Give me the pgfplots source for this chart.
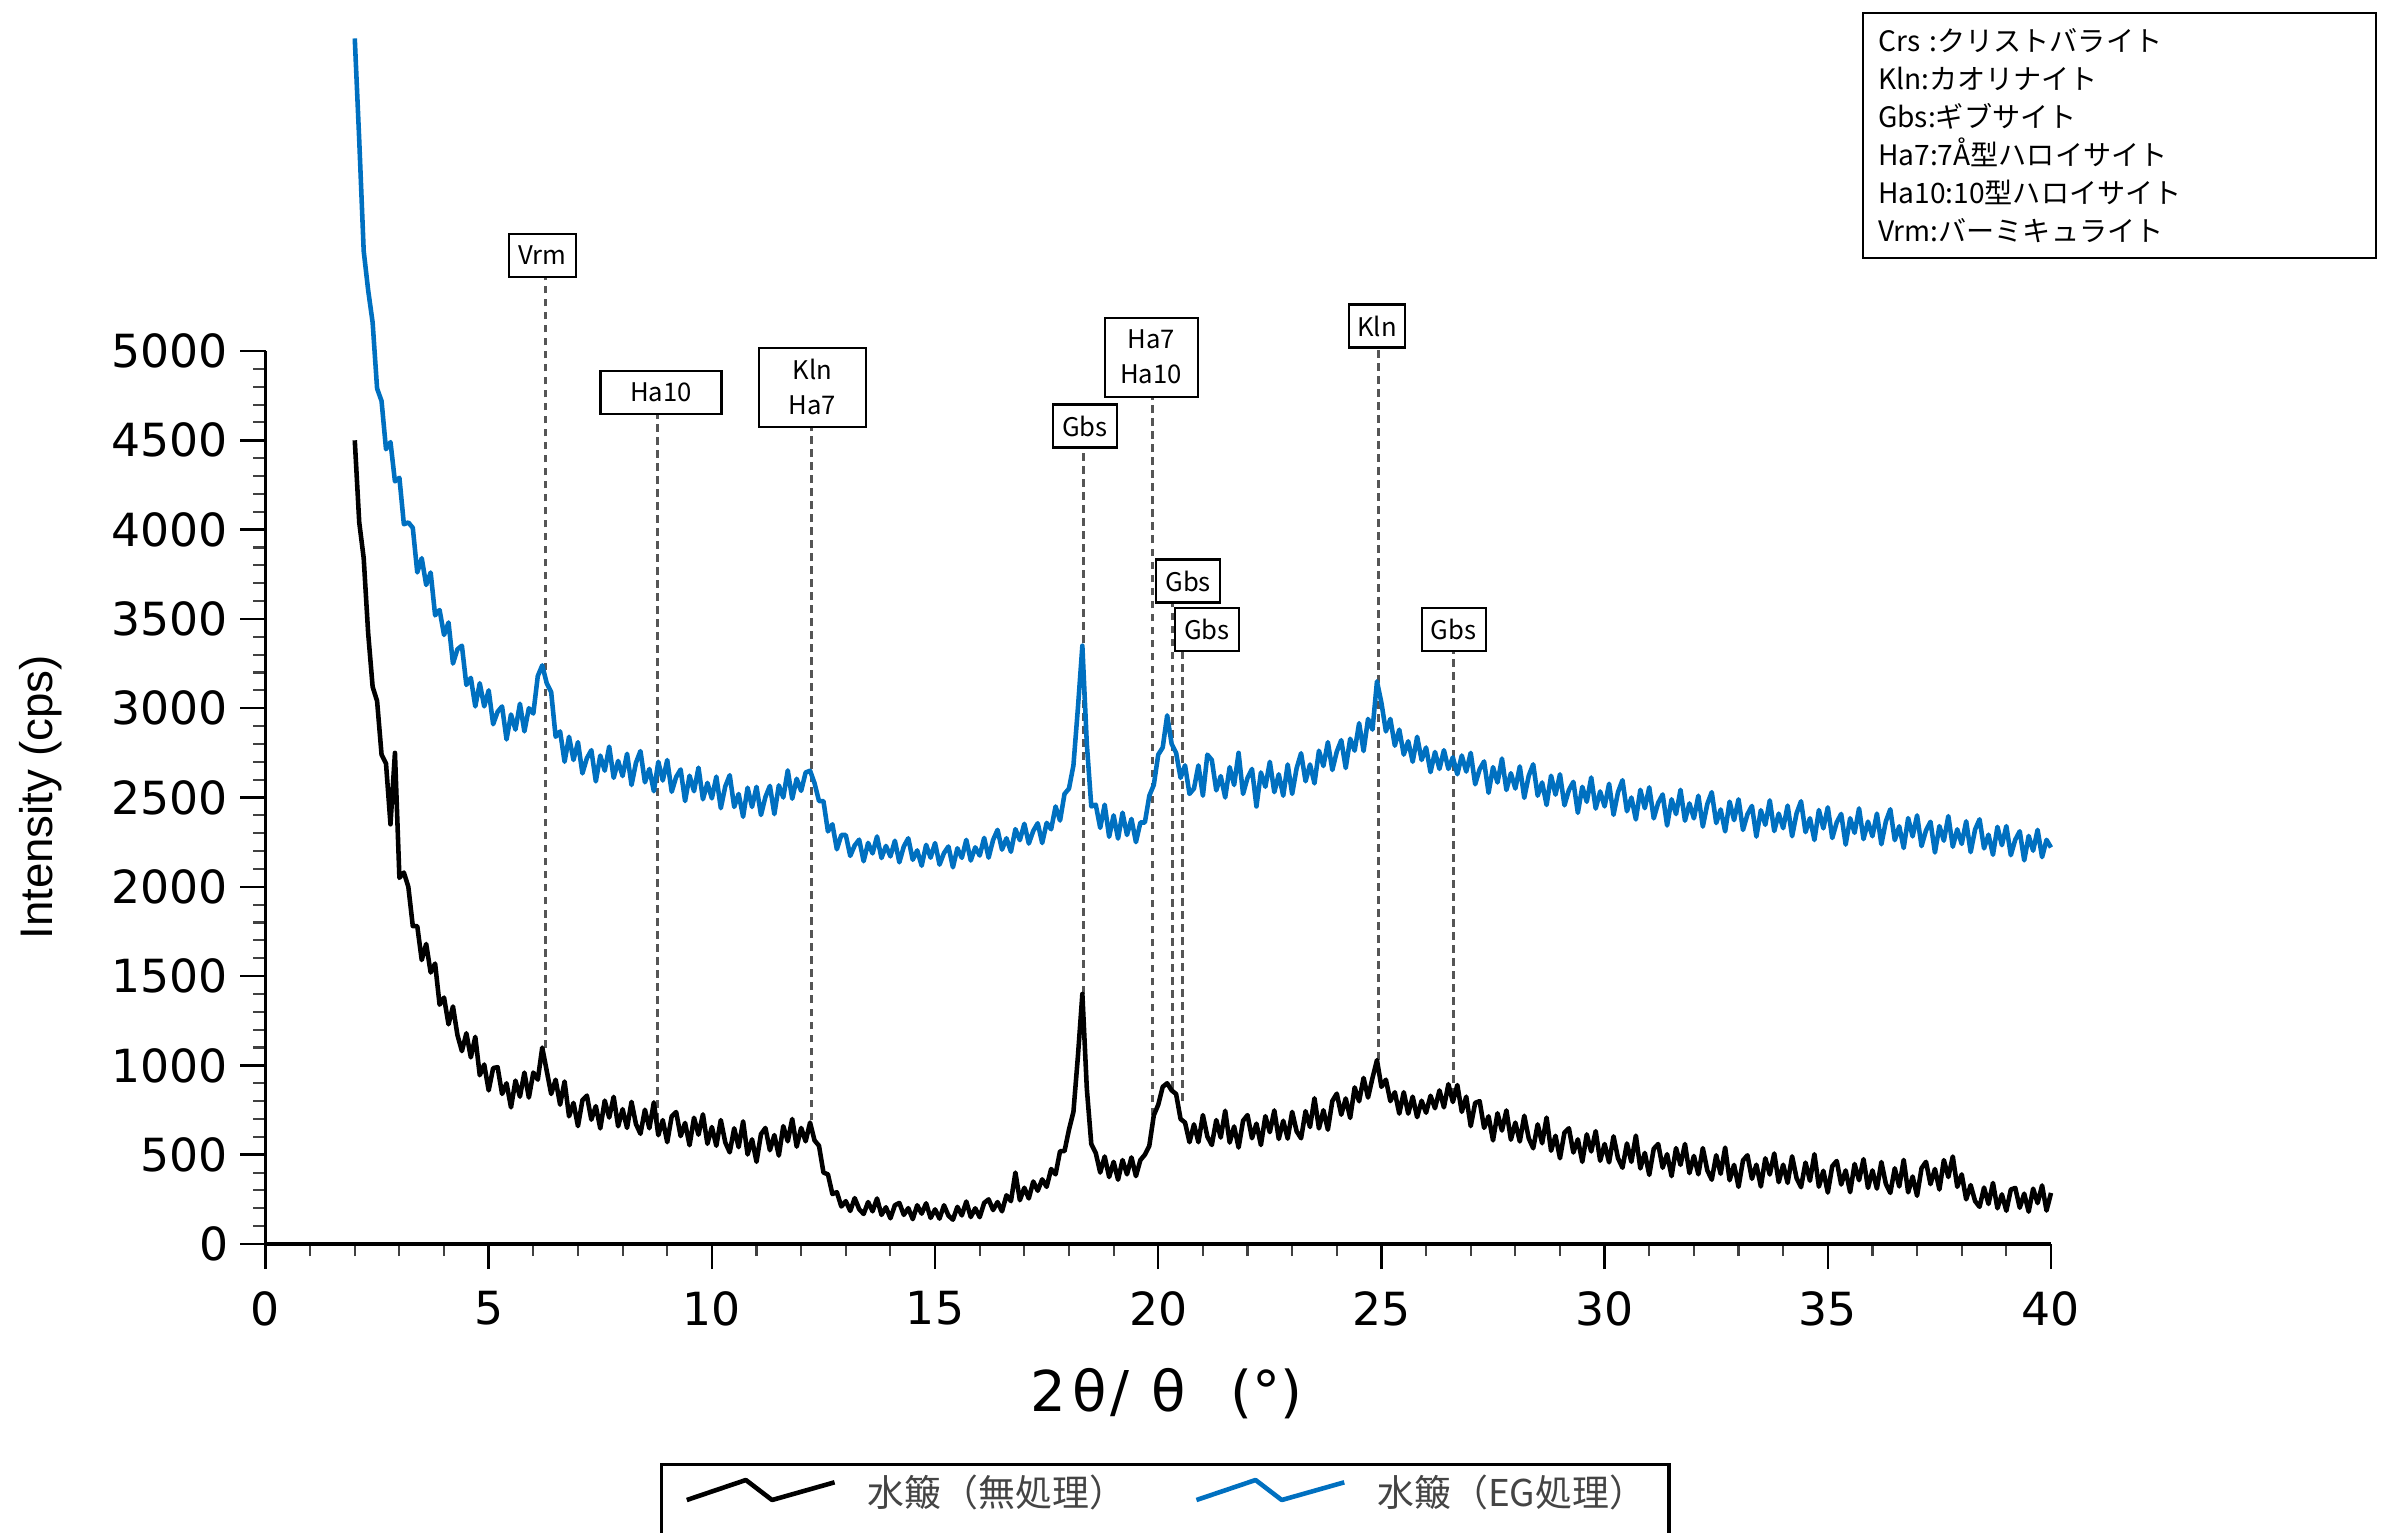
\documentclass[border=0pt]{standalone}
\usepackage{fontspec}
\setmainfont{Liberation Sans}
\newfontfamily\cjk{Noto Sans CJK JP}
\newfontfamily\dejavu{DejaVu Sans}
\usepackage{pgfplots}
\pgfplotsset{compat=1.18}
\usepackage{pgfplotstable}
\definecolor{egblue}{HTML}{0070C0}
\definecolor{dashgray}{HTML}{555555}
\definecolor{leggray}{HTML}{444444}
\tikzset{box/.style={draw=black, line width=0.6pt, fill=white, inner sep=0pt, align=center,
    font=\cjk\fontsize{7.3}{10}\selectfont}}
\pgfplotsset{dline/.style={dashgray, line width=0.9pt, dash pattern=on 2.2pt off 1.5pt, forget plot}}

\pgfplotstableread{
x b e
2.0 4500 6750
2.1 4040 6180
2.2 3840 5560
2.3 3420 5340
2.4 3120 5160
2.5 3040 4790
2.6 2740 4720
2.7 2690 4450
2.8 2350 4490
2.9 2750 4270
3.0 2050 4290
3.1 2080 4030
3.2 2000 4040
3.3 1780 4010
3.4 1780 3760
3.5 1590 3840
3.6 1680 3690
3.7 1520 3760
3.8 1570 3520
3.9 1340 3550
4.0 1380 3410
4.1 1230 3480
4.2 1330 3250
4.3 1170 3330
4.4 1080 3350
4.5 1180 3130
4.6 1045 3170
4.7 1160 3010
4.8 945 3140
4.9 1005 3010
5.0 860 3100
5.1 985 2910
5.2 990 2980
5.3 840 3010
5.4 900 2825
5.5 765 2965
5.6 915 2880
5.7 825 3025
5.8 960 2870
5.9 820 3000
6.0 960 2970
6.1 920 3180
6.2 1100 3240
6.3 970 3140
6.4 840 3090
6.5 920 2840
6.6 780 2870
6.7 910 2700
6.8 715 2840
6.9 790 2710
7.0 660 2810
7.1 805 2635
7.2 831 2720
7.3 696 2765
7.4 772 2590
7.5 647 2735
7.6 803 2650
7.7 708 2785
7.8 824 2610
7.9 659 2705
8.0 755 2620
8.1 650 2745
8.2 796 2570
8.3 671 2695
8.4 617 2760
8.5 752 2585
8.6 648 2660
8.7 793 2535
8.8 609 2700
8.9 694 2595
9.0 570 2710
9.1 715 2532
9.2 739 2615
9.3 604 2657
9.4 678 2480
9.5 553 2622
9.6 707 2535
9.7 612 2667
9.8 726 2490
9.9 561 2582
10.0 655 2495
10.1 550 2617
10.2 694 2440
10.3 569 2562
10.4 513 2625
10.5 648 2447
10.6 542 2520
10.7 687 2392
10.8 501 2555
10.9 586 2447
11.0 460 2560
11.1 615 2402
11.2 650 2503
11.3 525 2565
11.4 610 2407
11.5 495 2568
11.6 660 2500
11.7 575 2652
11.8 700 2493
11.9 545 2605
12.0 650 2537
12.1 575 2640
12.2 680 2650
12.3 580 2580
12.4 550 2480
12.5 400 2480
12.6 390 2310
12.7 280 2350
12.8 290 2210
12.9 210 2290
13.0 240 2290
13.1 185 2173
13.2 257 2232
13.3 195 2264
13.4 168 2143
13.5 235 2246
13.6 183 2187
13.7 255 2282
13.8 163 2161
13.9 206 2229
14.0 144 2170
14.1 217 2258
14.2 230 2137
14.3 163 2226
14.4 201 2272
14.5 139 2151
14.6 217 2204
14.7 170 2118
14.8 228 2235
14.9 146 2163
15.0 194 2245
15.1 142 2124
15.2 217 2189
15.3 159 2226
15.4 136 2109
15.5 208 2216
15.6 160 2162
15.7 238 2263
15.8 151 2147
15.9 200 2221
16.0 150 2175
16.1 230 2274
16.2 250 2163
16.3 190 2262
16.4 235 2319
16.5 183 2208
16.6 273 2272
16.7 240 2196
16.8 400 2323
16.9 245 2261
17.0 315 2353
17.1 255 2242
17.2 350 2313
17.3 298 2356
17.4 362 2245
17.5 320 2358
17.6 420 2322
17.7 390 2450
17.8 520 2371
17.9 520 2520
18.0 640 2550
18.1 740 2680
18.2 1050 3000
18.3 1400 3350
18.4 870 2800
18.5 560 2450
18.6 510 2460
18.7 400 2330
18.8 490 2460
18.9 375 2280
19.0 460 2400
19.1 360 2270
19.2 470 2415
19.3 390 2290
19.4 485 2380
19.5 380 2250
19.6 470 2360
19.7 500 2360
19.8 550 2510
19.9 720 2570
20.0 780 2740
20.1 880 2780
20.2 900 2960
20.3 860 2800
20.4 840 2750
20.5 700 2610
20.6 680 2680
20.7 570 2520
20.8 670 2550
20.9 570 2680
21.0 722 2510
21.1 602 2740
21.2 554 2710
21.3 694 2540
21.4 596 2620
21.5 746 2500
21.6 568 2670
21.7 658 2570
21.8 540 2750
21.9 690 2520
22.0 722 2610
22.1 592 2660
22.2 674 2450
22.3 554 2640
22.4 716 2560
22.5 626 2700
22.6 748 2530
22.7 588 2630
22.8 690 2510
22.9 590 2685
23.0 740 2520
23.1 631 2664
23.2 592 2748
23.3 744 2591
23.4 655 2685
23.5 816 2579
23.6 647 2762
23.7 749 2676
23.8 640 2810
23.9 801 2654
24.0 842 2757
24.1 724 2821
24.2 815 2665
24.3 706 2829
24.4 877 2762
24.5 799 2916
24.6 930 2760
24.7 820 2940
24.8 930 2880
24.9 1030 3150
25.0 880 3030
25.1 920 2870
25.2 800 2940
25.3 850 2790
25.4 730 2880
25.5 850 2740
25.6 730 2815
25.7 825 2700
25.8 710 2840
25.9 802 2710
26.0 735 2780
26.1 830 2642
26.2 760 2755
26.3 860 2660
26.4 765 2765
26.5 895 2660
26.6 795 2725
26.7 890 2630
26.8 740 2735
26.9 825 2645
27.0 660 2750
27.1 790 2574
27.2 800 2658
27.3 650 2702
27.4 715 2526
27.5 580 2670
27.6 732 2584
27.7 635 2718
27.8 748 2542
27.9 584 2636
28.0 680 2550
28.1 574 2674
28.2 718 2498
28.3 592 2622
28.4 536 2686
28.5 670 2510
28.6 564 2584
28.7 708 2458
28.8 522 2622
28.9 606 2516
29.0 480 2630
29.1 624 2456
29.2 648 2542
29.3 512 2588
29.4 586 2414
29.5 460 2560
29.6 614 2476
29.7 518 2612
29.8 632 2438
29.9 466 2534
30.0 560 2450
30.1 457 2577
30.2 603 2403
30.3 480 2530
30.4 427 2597
30.5 563 2423
30.6 460 2500
30.7 607 2377
30.8 423 2543
30.9 510 2440
31.0 387 2557
31.1 533 2383
31.2 560 2470
31.3 427 2517
31.4 503 2343
31.5 380 2490
31.6 537 2407
31.7 443 2543
31.8 560 2370
31.9 397 2467
32.0 493 2383
32.1 390 2510
32.2 537 2337
32.3 413 2463
32.4 360 2530
32.5 497 2357
32.6 393 2433
32.7 540 2310
32.8 357 2477
32.9 443 2373
33.0 320 2490
33.1 468 2318
33.2 497 2406
33.3 365 2453
33.4 444 2281
33.5 322 2429
33.6 480 2347
33.7 389 2484
33.8 507 2312
33.9 346 2410
34.0 444 2328
34.1 342 2455
34.2 491 2283
34.3 369 2411
34.4 318 2479
34.5 456 2306
34.6 354 2384
34.7 503 2262
34.8 321 2430
34.9 410 2327
35.0 288 2445
35.1 436 2273
35.2 465 2361
35.3 333 2408
35.4 412 2236
35.5 290 2384
35.6 448 2302
35.7 357 2439
35.8 475 2267
35.9 314 2365
36.0 412 2283
36.1 310 2410
36.2 459 2238
36.3 337 2366
36.4 286 2434
36.5 424 2261
36.6 322 2339
36.7 471 2217
36.8 289 2385
36.9 378 2282
37.0 270 2400
37.1 425 2228
37.2 460 2316
37.3 335 2364
37.4 420 2192
37.5 305 2340
37.6 470 2258
37.7 375 2396
37.8 490 2224
37.9 320 2322
38.0 390 2240
38.1 250 2367
38.2 330 2194
38.3 240 2321
38.4 208 2378
38.5 316 2215
38.6 224 2292
38.7 342 2179
38.8 200 2336
38.9 278 2233
39.0 186 2340
39.1 305 2177
39.2 314 2264
39.3 203 2311
39.4 282 2148
39.5 181 2285
39.6 310 2202
39.7 229 2319
39.8 328 2166
39.9 187 2263
40.0 286 2220
}\datatable

\begin{document}
\begin{tikzpicture}
\path[use as bounding box] (0,0) rectangle (23.81,15.32);
\begin{axis}[
  at={(2.655cm,2.88cm)}, anchor=south west,
  scale only axis, width=17.855cm, height=8.93cm,
  xmin=0, xmax=40, ymin=0, ymax=5000,
  axis lines=left,
  axis line style={-, line width=1pt, black},
  xtick={0,5,...,40}, ytick={0,500,...,5000},
  minor x tick num=4, minor y tick num=4,
  tick align=outside,
  major tick length=0.25cm, minor tick length=0.12cm,
  major tick style={line width=0.7pt, black},
  minor tick style={line width=0.6pt, black!75},
  clip=false,
  ticklabel style={font=\dejavu\fontsize{13}{15}\selectfont},
  xticklabel style={yshift=-0.1cm},
  /pgf/number format/assume math mode=true,
  /pgf/number format/1000 sep={},
  xlabel={\dejavu\fontsize{16}{18}\selectfont 2\hspace{0.07cm}θ\hspace{0.03cm}/\hspace{0.22cm}θ\hspace{0.45cm}(°)},
  xlabel style={at={(axis description cs:0.4279,-0.168)}, anchor=west, inner sep=0pt},
  ylabel={\fontsize{13}{15}\selectfont Intensity (cps)},
  ylabel style={at={(axis description cs:-0.1257,0.5)}, anchor=center},
  legend columns=2,
  legend image code/.code={\draw[#1] (0cm,0.159cm) -- (0.591cm,0.359cm) -- (0.853cm,0.159cm) -- (1.478cm,0.336cm);},
  legend style={at={(axis description cs:0.2208,-0.2452)}, anchor=north west,
    draw=black, line width=1pt, inner xsep=0.23cm, inner ysep=0.104cm,
    nodes={inner sep=0pt, text depth=0.5cm, text=leggray, font=\cjk\fontsize{10.5}{12}\selectfont},
    /tikz/every odd column/.append style={column sep=0.31cm},
    /tikz/every even column/.append style={column sep=0.68cm}},
]
% dashed reference lines
\addplot[dline] coordinates {(6.28,1100) (6.28,5414)};
\addplot[dline] coordinates {(8.78,690) (8.78,4647)};
\addplot[dline] coordinates {(12.24,620) (12.24,4574)};
\addplot[dline] coordinates {(18.33,1400) (18.33,4457)};
\addplot[dline] coordinates {(19.87,720) (19.87,4742)};
\addplot[dline] coordinates {(20.32,870) (20.32,3594)};
\addplot[dline] coordinates {(20.55,800) (20.55,3320)};
\addplot[dline] coordinates {(24.94,1030) (24.94,5017)};
\addplot[dline] coordinates {(26.62,830) (26.62,3320)};
% curves
\addplot[black, line width=1.3pt, line join=round] table[x=x, y=b] {\datatable};
\addlegendentry{水簸（無処理）}
\addplot[egblue, line width=1.3pt, line join=round] table[x=x, y=e] {\datatable};
\addlegendentry{水簸（EG処理）}
% label boxes
\node[box, minimum width=0.67cm, minimum height=0.43cm] at (axis cs:6.205,5537) {Vrm};
\node[box, minimum width=1.21cm, minimum height=0.43cm] at (axis cs:8.86,4770) {Ha10};
\node[box, minimum width=1.07cm, minimum height=0.79cm] at (axis cs:12.25,4798) {Kln\\Ha7};
\node[box, minimum width=0.64cm, minimum height=0.43cm] at (axis cs:18.36,4580) {Gbs};
\node[box, minimum width=0.93cm, minimum height=0.79cm] at (axis cs:19.84,4966) {Ha7\\Ha10};
\node[box, minimum width=0.64cm, minimum height=0.43cm] at (axis cs:20.67,3712) {Gbs};
\node[box, minimum width=0.64cm, minimum height=0.43cm] at (axis cs:21.09,3443) {Gbs};
\node[box, minimum width=0.56cm, minimum height=0.43cm] at (axis cs:24.9,5140) {Kln};
\node[box, minimum width=0.64cm, minimum height=0.43cm] at (axis cs:26.62,3443) {Gbs};
\end{axis}
\node[draw=black, line width=0.7pt, anchor=north west, inner xsep=0.15cm, inner ysep=0.15cm,
  text width=4.83cm, align=left, font=\cjk\fontsize{8}{10.85}\selectfont]
  at (18.62,15.20) {Crs :クリストバライト\\Kln:カオリナイト\\Gbs:ギブサイト\\Ha7:7Å型ハロイサイト\\Ha10:10型ハロイサイト\\Vrm:バーミキュライト};
\end{tikzpicture}
\end{document}
